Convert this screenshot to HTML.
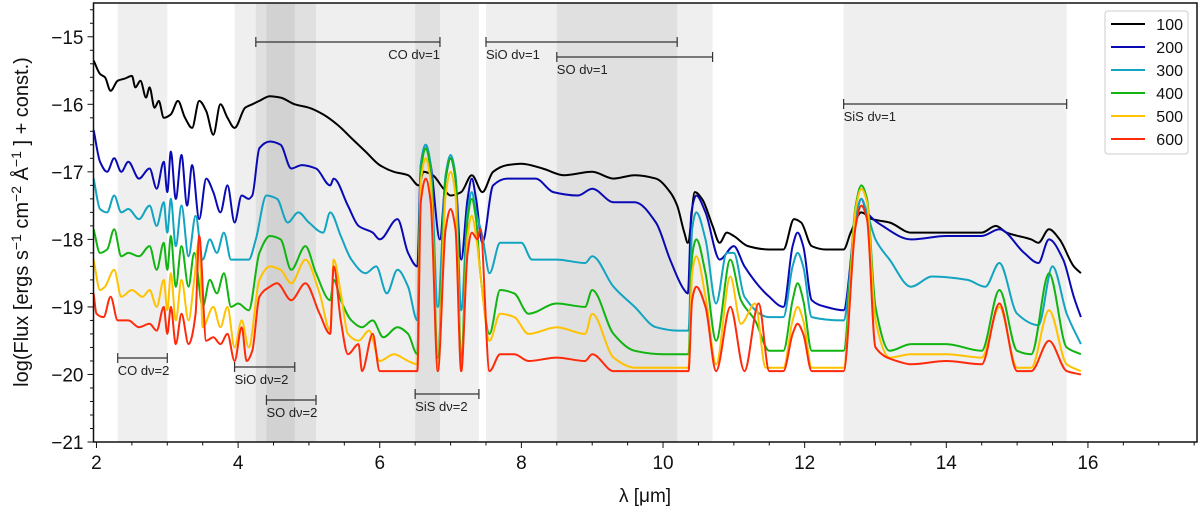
<!DOCTYPE html>
<html><head><meta charset="utf-8"><style>
body{margin:0;background:#fff;}
svg{font-family:"Liberation Sans",sans-serif;}
</style></head><body>
<svg id="chart" width="1200" height="513" viewBox="0 0 1200 513">
<g id="bands"></g>
<g id="series"></g>
<g id="annots"></g>
<g id="axes"></g>
<g id="legend"></g>
</svg>
<script>
const labels=["100","200","300","400","500","600"];
const colors=["#000000","#0a0ab4","#12a4c0","#12b412","#ffc200","#ff2a0a"];
const xTicks=[2,4,6,8,10,12,14,16];
const yTicks=[-15,-16,-17,-18,-19,-20,-21];
const bandNames=["CO dν=2","SiO dν=2","SO dν=2","CO dν=1","SiS dν=2","SiO dν=1","SO dν=1","SiS dν=1"];
const bandStart=[2.3,3.95,4.4,4.25,6.5,7.5,8.5,12.55];
const bandEnd=[3.0,4.8,5.1,6.85,7.4,10.2,10.7,15.7];
const s100=[[1.96,-15.35],[2.05,-15.55],[2.12,-15.6],[2.2,-15.8],[2.3,-15.65],[2.4,-15.62],[2.5,-15.58],[2.55,-15.75],[2.62,-15.65],[2.7,-15.9],[2.75,-15.75],[2.82,-16.05],[2.88,-15.95],[2.95,-16.2],[3.05,-16.15],[3.15,-15.95],[3.25,-16.2],[3.35,-16.35],[3.45,-15.95],[3.55,-16.1],[3.65,-16.45],[3.75,-16.0],[3.85,-16.2],[3.95,-16.35],[4.1,-16.05],[4.2,-16.0],[4.3,-15.95],[4.45,-15.88],[4.6,-15.9],[4.8,-16.0],[5.0,-16.05],[5.2,-16.15],[5.4,-16.3],[5.6,-16.5],[5.8,-16.7],[6.0,-16.9],[6.2,-17.0],[6.4,-17.05],[6.55,-17.2],[6.62,-17.0],[6.75,-17.05],[6.9,-17.25],[7.0,-17.35],[7.15,-17.3],[7.3,-17.05],[7.45,-17.3],[7.6,-17.0],[7.8,-16.9],[8.0,-16.88],[8.3,-16.95],[8.6,-17.05],[9.0,-17.0],[9.3,-17.1],[9.6,-17.05],[9.9,-17.1],[10.1,-17.3],[10.2,-17.5],[10.3,-17.9],[10.35,-18.05],[10.45,-17.3],[10.55,-17.4],[10.7,-17.8],[10.8,-18.05],[10.9,-17.9],[11.0,-17.95],[11.2,-18.1],[11.5,-18.15],[11.7,-18.15],[11.85,-17.7],[11.95,-17.75],[12.1,-18.1],[12.3,-18.15],[12.55,-18.15],[12.65,-17.9],[12.8,-17.6],[12.95,-17.7],[13.2,-17.75],[13.5,-17.9],[14.0,-17.9],[14.5,-17.9],[14.7,-17.8],[14.85,-17.9],[15.2,-18.0],[15.3,-18.05],[15.45,-17.85],[15.6,-18.0],[15.8,-18.4],[15.9,-18.5]];
const s200=[[1.96,-16.38],[2.05,-16.85],[2.15,-17.0],[2.25,-16.8],[2.35,-17.0],[2.45,-16.85],[2.6,-17.1],[2.75,-16.95],[2.85,-17.25],[2.95,-16.85],[3.0,-17.3],[3.05,-16.7],[3.12,-17.4],[3.2,-16.75],[3.28,-17.5],[3.35,-16.9],[3.45,-17.7],[3.55,-17.1],[3.65,-17.3],[3.75,-17.6],[3.85,-17.2],[3.95,-17.75],[4.05,-17.35],[4.15,-17.4],[4.2,-17.35],[4.3,-16.65],[4.45,-16.55],[4.6,-16.6],[4.75,-16.95],[4.9,-16.9],[5.1,-16.95],[5.3,-17.2],[5.35,-17.1],[5.55,-17.5],[5.7,-17.8],[5.9,-17.9],[6.0,-18.0],[6.25,-17.7],[6.4,-18.2],[6.53,-18.4],[6.58,-16.9],[6.65,-16.6],[6.72,-16.9],[6.85,-18.0],[6.93,-17.1],[7.0,-16.8],[7.07,-17.1],[7.15,-18.3],[7.24,-17.4],[7.3,-17.1],[7.36,-17.4],[7.45,-18.05],[7.6,-17.2],[7.8,-17.1],[8.2,-17.1],[8.45,-17.3],[8.8,-17.35],[9.0,-17.25],[9.3,-17.45],[9.6,-17.45],[9.9,-17.75],[10.1,-18.3],[10.3,-18.75],[10.35,-18.8],[10.4,-17.6],[10.47,-17.35],[10.6,-17.6],[10.8,-18.3],[11.0,-18.1],[11.15,-18.4],[11.5,-18.85],[11.7,-19.0],[11.83,-18.1],[11.9,-17.9],[11.98,-18.1],[12.1,-18.9],[12.3,-19.0],[12.55,-19.05],[12.72,-17.7],[12.8,-17.4],[12.88,-17.6],[13.1,-17.8],[13.5,-18.0],[14.0,-17.95],[14.5,-17.95],[14.75,-17.85],[15.1,-18.2],[15.3,-18.35],[15.45,-18.0],[15.65,-18.3],[15.8,-18.85],[15.9,-19.15]];
const s300=[[1.96,-17.1],[2.05,-17.55],[2.15,-17.6],[2.25,-17.35],[2.35,-17.6],[2.45,-17.55],[2.6,-17.7],[2.75,-17.5],[2.85,-17.8],[2.95,-17.45],[3.0,-17.9],[3.05,-17.4],[3.12,-18.1],[3.2,-17.5],[3.3,-18.25],[3.4,-17.65],[3.5,-18.3],[3.6,-18.0],[3.7,-18.2],[3.8,-17.9],[3.9,-18.3],[4.0,-18.3],[4.15,-18.3],[4.25,-18.0],[4.4,-17.35],[4.55,-17.4],[4.7,-17.75],[4.85,-17.6],[5.0,-17.75],[5.2,-17.9],[5.3,-17.6],[5.45,-17.95],[5.6,-18.3],[5.8,-18.5],[5.95,-18.4],[6.1,-18.8],[6.25,-18.45],[6.4,-18.7],[6.53,-19.2],[6.58,-16.9],[6.65,-16.6],[6.72,-16.9],[6.82,-19.0],[6.93,-17.05],[7.0,-16.75],[7.07,-17.05],[7.15,-19.05],[7.24,-17.6],[7.3,-17.3],[7.36,-17.6],[7.45,-17.95],[7.55,-18.5],[7.7,-18.05],[8.0,-18.05],[8.15,-18.3],[8.5,-18.3],[8.9,-18.35],[9.0,-18.25],[9.3,-18.7],[9.6,-19.0],[9.9,-19.3],[10.2,-19.35],[10.36,-19.35],[10.41,-17.85],[10.47,-17.6],[10.6,-18.0],[10.75,-18.95],[10.9,-18.2],[11.0,-18.2],[11.15,-18.85],[11.5,-19.15],[11.7,-19.15],[11.83,-18.4],[11.9,-18.2],[11.98,-18.4],[12.1,-19.15],[12.55,-19.2],[12.72,-17.7],[12.8,-17.4],[12.88,-17.6],[13.0,-18.0],[13.2,-18.3],[13.5,-18.7],[13.8,-18.55],[14.3,-18.6],[14.55,-18.7],[14.75,-18.35],[15.0,-19.1],[15.3,-19.27],[15.5,-18.4],[15.7,-19.1],[15.9,-19.55]];
const s400=[[1.96,-17.85],[2.05,-18.2],[2.15,-18.15],[2.25,-17.85],[2.35,-18.25],[2.45,-18.2],[2.6,-18.25],[2.75,-18.1],[2.85,-18.45],[2.95,-18.05],[3.0,-18.45],[3.05,-17.95],[3.12,-18.7],[3.2,-18.1],[3.3,-18.7],[3.38,-18.2],[3.5,-19.0],[3.6,-18.6],[3.7,-18.8],[3.8,-18.5],[3.9,-19.0],[4.0,-18.95],[4.15,-19.05],[4.3,-18.2],[4.45,-17.95],[4.6,-18.0],[4.75,-18.45],[4.95,-18.1],[5.1,-18.5],[5.3,-18.9],[5.35,-18.6],[5.45,-18.9],[5.6,-19.2],[5.75,-19.3],[5.9,-19.2],[6.05,-19.45],[6.25,-19.3],[6.4,-19.4],[6.53,-19.7],[6.58,-17.0],[6.65,-16.65],[6.72,-17.0],[6.82,-19.75],[6.93,-17.1],[7.0,-16.8],[7.07,-17.1],[7.15,-19.8],[7.24,-17.7],[7.3,-17.4],[7.36,-17.7],[7.42,-18.5],[7.55,-19.4],[7.7,-18.75],[7.9,-18.8],[8.1,-19.1],[8.5,-18.95],[8.9,-19.0],[9.0,-18.75],[9.3,-19.4],[9.6,-19.65],[10.0,-19.7],[10.36,-19.7],[10.41,-18.25],[10.47,-18.0],[10.6,-18.5],[10.75,-19.5],[10.95,-18.3],[11.1,-18.9],[11.3,-19.2],[11.5,-19.65],[11.7,-19.65],[11.83,-18.9],[11.9,-18.65],[11.98,-18.9],[12.1,-19.65],[12.55,-19.65],[12.72,-17.5],[12.8,-17.2],[12.88,-17.4],[13.0,-19.0],[13.2,-19.65],[13.5,-19.55],[14.0,-19.55],[14.5,-19.65],[14.75,-18.75],[15.0,-19.65],[15.2,-19.7],[15.45,-18.5],[15.7,-19.6],[15.9,-19.7]];
const s500=[[1.96,-18.3],[2.05,-18.75],[2.12,-18.7],[2.25,-18.45],[2.35,-18.85],[2.5,-18.75],[2.65,-18.85],[2.75,-18.75],[2.85,-19.0],[2.95,-18.6],[3.0,-19.05],[3.05,-18.5],[3.12,-19.2],[3.2,-18.6],[3.3,-19.2],[3.38,-18.6],[3.45,-18.0],[3.5,-19.3],[3.65,-19.0],[3.75,-19.3],[3.85,-19.0],[3.95,-19.6],[4.05,-19.2],[4.15,-19.6],[4.3,-18.6],[4.45,-18.4],[4.6,-18.45],[4.75,-18.65],[4.95,-18.3],[5.15,-18.8],[5.3,-19.35],[5.35,-18.3],[5.45,-18.8],[5.55,-19.4],[5.7,-19.5],[5.85,-19.35],[6.0,-19.8],[6.2,-19.7],[6.4,-19.8],[6.53,-19.85],[6.58,-17.15],[6.65,-16.8],[6.72,-17.15],[6.82,-19.9],[6.93,-17.35],[7.0,-17.0],[7.07,-17.35],[7.15,-19.95],[7.24,-17.95],[7.3,-17.65],[7.36,-17.95],[7.42,-18.5],[7.55,-19.5],[7.7,-19.1],[7.9,-19.15],[8.1,-19.4],[8.5,-19.3],[8.9,-19.4],[9.0,-19.1],[9.3,-19.75],[9.6,-19.9],[10.36,-19.9],[10.41,-18.5],[10.47,-18.25],[10.6,-18.85],[10.75,-19.85],[10.95,-18.55],[11.1,-19.25],[11.3,-18.95],[11.45,-19.9],[11.7,-19.9],[11.83,-19.2],[11.9,-19.0],[11.98,-19.2],[12.1,-19.9],[12.55,-19.9],[12.72,-17.55],[12.8,-17.25],[12.88,-17.45],[13.0,-19.2],[13.2,-19.75],[13.5,-19.7],[14.0,-19.7],[14.5,-19.75],[14.75,-19.0],[15.0,-19.9],[15.2,-19.9],[15.45,-19.05],[15.7,-19.85],[15.9,-19.95]];
const s600=[[1.96,-18.8],[2.0,-19.1],[2.1,-19.15],[2.2,-18.85],[2.3,-19.2],[2.45,-19.2],[2.6,-19.3],[2.75,-19.25],[2.85,-19.35],[2.95,-19.0],[3.0,-19.4],[3.05,-19.0],[3.12,-19.55],[3.2,-19.1],[3.3,-19.55],[3.4,-19.1],[3.45,-17.95],[3.55,-19.5],[3.65,-19.45],[3.75,-19.55],[3.85,-19.4],[3.95,-19.8],[4.05,-19.3],[4.12,-19.8],[4.2,-19.65],[4.3,-18.85],[4.45,-18.7],[4.55,-18.65],[4.75,-18.9],[4.95,-18.65],[5.15,-19.1],[5.3,-19.4],[5.35,-18.4],[5.45,-19.2],[5.55,-19.7],[5.7,-19.55],[5.75,-19.95],[5.9,-19.4],[6.0,-19.95],[6.53,-19.95],[6.58,-17.45],[6.65,-17.1],[6.72,-17.45],[6.82,-19.95],[6.93,-17.85],[7.0,-17.55],[7.07,-17.85],[7.15,-19.95],[7.24,-18.2],[7.3,-17.9],[7.38,-18.0],[7.42,-17.85],[7.55,-19.95],[7.7,-19.7],[7.9,-19.7],[8.1,-19.8],[8.5,-19.75],[8.9,-19.8],[9.0,-19.7],[9.3,-19.95],[10.36,-19.95],[10.41,-18.9],[10.47,-18.7],[10.6,-19.0],[10.75,-19.95],[10.95,-19.0],[11.15,-19.95],[11.35,-18.95],[11.5,-19.95],[11.7,-19.95],[11.83,-19.4],[11.9,-19.25],[11.98,-19.4],[12.1,-19.95],[12.55,-19.95],[12.72,-17.8],[12.8,-17.5],[12.88,-17.7],[13.0,-19.6],[13.3,-19.8],[13.5,-19.85],[14.0,-19.8],[14.5,-19.85],[14.75,-18.95],[15.0,-19.95],[15.2,-19.95],[15.45,-19.5],[15.7,-19.95],[15.9,-20.0]];
const seriesData=[s100,s200,s300,s400,s500,s600];

const NS="http://www.w3.org/2000/svg";
const L=93.5,R=1197,T=3,B=442;
const X0=1.958,X1=17.54,Y0=-21,Y1=-14.5;
function sx(v){return L+(v-X0)/(X1-X0)*(R-L);}
function sy(v){return B-(v-Y0)/(Y1-Y0)*(B-T);}
function mk(tag,attrs,parent){const e=document.createElementNS(NS,tag);for(const k in attrs)e.setAttribute(k,attrs[k]);parent.appendChild(e);return e;}
function monoPath(P){
  const n=P.length;const dx=[],m=[],t=[];
  for(let i=0;i<n-1;i++){dx[i]=P[i+1][0]-P[i][0];m[i]=(P[i+1][1]-P[i][1])/dx[i];}
  t[0]=m[0];t[n-1]=m[n-2];
  for(let i=1;i<n-1;i++){ if(m[i-1]*m[i]<=0)t[i]=0; else {const w1=2*dx[i]+dx[i-1],w2=dx[i]+2*dx[i-1];t[i]=(w1+w2)/(w1/m[i-1]+w2/m[i]);} }
  let d='M'+P[0][0].toFixed(1)+','+P[0][1].toFixed(1);
  for(let i=0;i<n-1;i++){const h=dx[i]/3;
    d+='C'+(P[i][0]+h).toFixed(1)+','+(P[i][1]+t[i]*h).toFixed(1)+' '+(P[i+1][0]-h).toFixed(1)+','+(P[i+1][1]-t[i+1]*h).toFixed(1)+' '+P[i+1][0].toFixed(1)+','+P[i+1][1].toFixed(1);}
  return d;
}

const gB=document.getElementById('bands');
bandStart.forEach((s,i)=>{
  const r=mk('rect',{x:sx(s),y:T,width:sx(bandEnd[i])-sx(s),height:B-T,fill:'#000','fill-opacity':0.063},gB);
  
  
});

const gS=document.getElementById('series');
seriesData.forEach((d,i)=>{
  const pts=d.map(q=>[sx(q[0]),sy(q[1])]);
  const p=mk('path',{d:monoPath(pts),fill:'none',stroke:colors[i],'stroke-width':2,'stroke-linejoin':'round'},gS);
  
  
});

const annY=[358,367,400,42,394,42,57,104];
const annAlign=['start','start','start','end','start','start','start','start'];
const gA=document.getElementById('annots');
bandStart.forEach((s,i)=>{
  const g=mk('g',{},gA);
  
  
  const x1=sx(s),x2=sx(bandEnd[i]),y=annY[i];
  mk('line',{x1:x1,x2:x2,y1:y,y2:y,stroke:'#333','stroke-width':1.2},g);
  mk('line',{x1:x1,x2:x1,y1:y-5,y2:y+5,stroke:'#333','stroke-width':1.2},g);
  mk('line',{x1:x2,x2:x2,y1:y-5,y2:y+5,stroke:'#333','stroke-width':1.2},g);
  const t=mk('text',{x:annAlign[i]==='end'?x2:x1,y:y+17,'font-size':13,'text-anchor':annAlign[i],fill:'#222'},g);
  t.textContent=bandNames[i];
});

const gX=document.getElementById('axes');
mk('rect',{x:L,y:T,width:R-L,height:B-T,fill:'none',stroke:'#111','stroke-width':1.5},gX);
for(let v=2;v<=17.5;v+=0.5){const x=sx(v);const maj=xTicks.includes(v);mk('line',{x1:x,x2:x,y1:B,y2:B+(maj?6:3.5),stroke:'#111','stroke-width':1},gX);}
xTicks.forEach(v=>{const t=mk('text',{x:sx(v),y:B+27,'font-size':19,'text-anchor':'middle',fill:'#111'},gX);t.textContent=v;
  
  });
for(let k=0;k<=32;k++){const v=-21+k*0.2;const y=sy(v);const maj=Math.abs(v-Math.round(v))<1e-6;mk('line',{x1:L,x2:L-(maj?6:3.5),y1:y,y2:y,stroke:'#111','stroke-width':1},gX);}
yTicks.forEach(v=>{const t=mk('text',{x:L-10,y:sy(v)+7,'font-size':19,'text-anchor':'end',fill:'#111'},gX);t.textContent='\u2212'+Math.abs(v);
  
  });
const xl=mk('text',{x:645,y:502,'font-size':19,'text-anchor':'middle',fill:'#111'},gX);xl.textContent='λ [μm]';


const yl=mk('text',{x:0,y:0,'font-size':20,'text-anchor':'middle',fill:'#111',transform:'translate(28,222) rotate(-90)'},gX);
yl.innerHTML='log(Flux [ergs s<tspan dy="-7" font-size="14">−1</tspan><tspan dy="7"> cm</tspan><tspan dy="-7" font-size="14">−2</tspan><tspan dy="7"> Å</tspan><tspan dy="-7" font-size="14">−1</tspan><tspan dy="7"> ] + const.)</tspan>';



const gL=document.getElementById('legend');
mk('rect',{x:1105,y:11,width:83,height:143,rx:3,fill:'#fff','fill-opacity':0.85,stroke:'#ccc'},gL);
labels.forEach((lab,i)=>{
  const g=mk('g',{},gL);
  
  
  const y=24+i*23;
  mk('line',{x1:1111,x2:1145,y1:y,y2:y,stroke:colors[i],'stroke-width':2},g);
  const t=mk('text',{x:1183,y:y+6,'font-size':16,'text-anchor':'end',fill:'#111'},g);t.textContent=lab;
});
</script>
</body></html>
